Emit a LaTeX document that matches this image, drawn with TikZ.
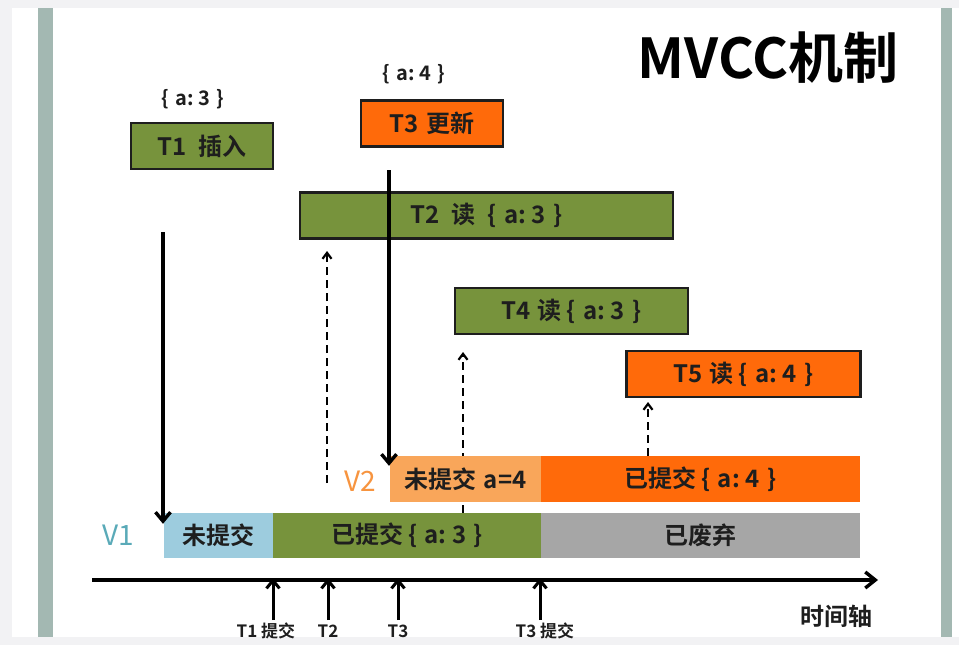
\documentclass[tikz,border=0pt]{standalone}
\usepackage{fontspec}
\setmainfont{Noto Sans CJK SC}[BoldFont={Noto Sans CJK SC Bold}]
\usetikzlibrary{arrows.meta}
\usepackage{xcolor}
\definecolor{ink}{HTML}{1E1E1E}
\definecolor{olive}{HTML}{77933C}
\definecolor{hotorange}{HTML}{FF6A0A}
\definecolor{softorange}{HTML}{F9A65A}
\definecolor{skyblue}{HTML}{9DCCDE}
\definecolor{dropgray}{HTML}{A6A6A6}
\definecolor{sidebar}{HTML}{A3B8B2}
\definecolor{pagegray}{HTML}{F2F2F4}
\definecolor{vone}{HTML}{5AAAB8}
\definecolor{vtwo}{HTML}{F7943F}
\newcommand{\boxfont}{\fontsize{24}{26}\selectfont\bfseries}
\newcommand{\valfont}{\fontsize{20}{22}\selectfont\bfseries}
\newcommand{\tickfont}{\fontsize{17}{18}\selectfont\bfseries}
\newcommand{\kv}[1]{\{\hspace{.3em}a:\hspace{.25em}#1\hspace{.3em}\}}

\begin{document}
\begin{tikzpicture}[x=1pt,y=-1pt,
  every node/.style={text=ink,inner sep=0pt},
  txbox/.style={draw=ink,line width=2.2pt,minimum height=46pt,font=\boxfont},
  verbar/.style={minimum height=46pt,font=\boxfont},
  down/.style={line width=3.4pt,-{Straight Barb[length=9pt,width=15pt]}},
  readarr/.style={line width=2.2pt,dash pattern=on 8pt off 5pt,-{Straight Barb[length=6pt,width=9pt]}},
  tick/.style={line width=3pt,-{Straight Barb[length=8pt,width=13pt]}}]
\useasboundingbox (0,0) rectangle (959,645);
% page and side bars
\fill[pagegray] (0,0) rectangle (959,645);
\fill[white] (12,8) rectangle (959,637);
\fill[sidebar] (38,8) rectangle (53,637);
\fill[sidebar] (941,8) rectangle (952,637);
\node[font=\fontsize{55}{57}\selectfont\bfseries,text=black] (title) at (768,58) {MVCC机制};
% transactions
\node[font=\valfont] (t1val) at (193,99) {\kv{3}};
\node[txbox,fill=olive,minimum width=142pt] (t1) at (202,146) {T1\hspace{.5em}插入};
\node[font=\valfont] (t3val) at (414,74) {\kv{4}};
\node[txbox,fill=hotorange,minimum width=142pt] (t3) at (432,123.5) {T3\hspace{.3em}更新};
\node[txbox,fill=olive,minimum width=373pt] (t2) at (486.5,215.5) {T2\hspace{.5em}读\hspace{.5em}\kv{3}};
\node[txbox,fill=olive,minimum width=233pt] (t4) at (571.5,311) {T4\hspace{.3em}读\hspace{.2em}\kv{3}};
\node[txbox,fill=hotorange,minimum width=234pt] (t5) at (743.5,374) {T5\hspace{.3em}读\hspace{.2em}\kv{4}};
% versions
\node[verbar,fill=skyblue,minimum width=109pt,minimum height=45pt] (v1new) at (218.5,535.5) {未提交};
\node[verbar,fill=olive,minimum width=268pt,minimum height=45pt] (v1done) at (407,535.5) {已提交\hspace{.2em}\kv{3}};
\node[verbar,fill=dropgray,minimum width=319pt,minimum height=45pt] (v1drop) at (700.5,535.5) {已废弃};
\coordinate (r4) at (463,352);
\draw[readarr] (r4 |- v1done.north) -- (r4);
\node[verbar,fill=softorange,minimum width=151pt] (v2new) at (465.5,479) {未提交\hspace{.3em}a=4};
\node[verbar,fill=hotorange,minimum width=319pt] (v2done) at (700.5,479) {已提交\hspace{.2em}\kv{4}};
\node[font=\fontsize{28}{30}\selectfont,text=vone] (v1) at (118,535) {V1};
\node[font=\fontsize{28}{30}\selectfont,text=vtwo] (v2) at (360,481) {V2};
% writes and reads
\coordinate (w1) at (163,232);
\draw[down] (w1) -- ([yshift=-11pt]w1 |- v1new.north);
\coordinate (w3) at (389,170);
\draw[down] (w3) -- ([yshift=-10pt]w3 |- v2new.north);
\coordinate (r2) at (327,483);
\draw[readarr] (r2) -- (r2 |- 0,251);
\coordinate (r5) at (648,402);
\draw[readarr] (r5 |- v2done.north) -- (r5);
% time axis
\coordinate (ax0) at (92,580);
\coordinate (ax1) at (878,580);
\draw[line width=3.4pt,-{Straight Barb[length=10pt,width=16pt]}] (ax0) -- (ax1);
\node[font=\fontsize{24}{26}\selectfont\bfseries] (axname) at (836,616) {时间轴};
\foreach \x/\l/\lx in {273/T1 提交/266,328/T2/328,398/T3/398,540/T3 提交/545}{
  \coordinate (tk) at (\x,620);
  \draw[tick] (tk) -- ([yshift=2pt]tk |- ax0);
  \node[font=\tickfont] at (\lx,631) {\l};}
\end{tikzpicture}
\end{document}
